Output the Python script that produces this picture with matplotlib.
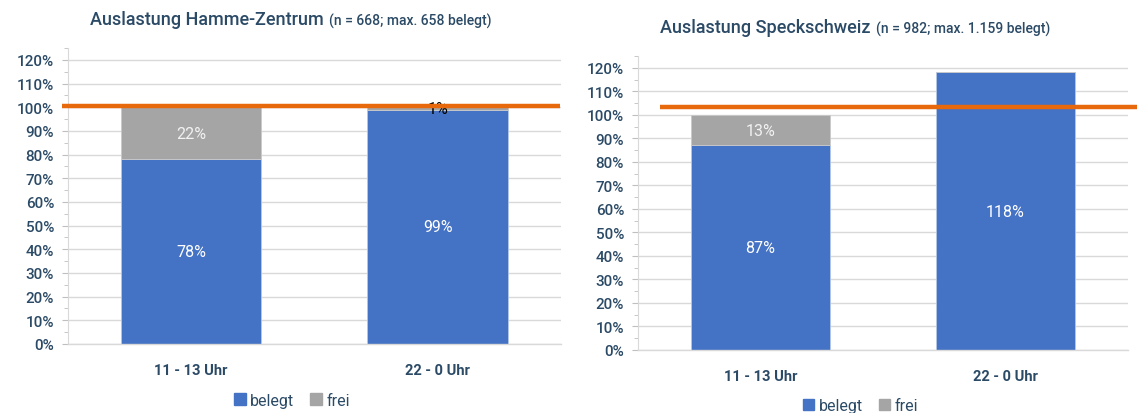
import matplotlib
matplotlib.use("Agg")
import matplotlib.pyplot as plt
from matplotlib.patches import Patch
from matplotlib.ticker import MultipleLocator, FuncFormatter

plt.rcParams['font.family'] = ['Roboto', 'DejaVu Sans']

# ---- data ----
categories = ["11 - 13 Uhr", "22 - 0 Uhr"]
left_title = "Auslastung Hamme-Zentrum"
left_sub = "(n = 668; max. 658 belegt)"
left_belegt = [78, 99]
left_frei = [22, 1]
left_threshold = 100.5

right_title = "Auslastung Speckschweiz"
right_sub = "(n = 982; max. 1.159 belegt)"
right_belegt = [87, 118]
right_frei = [13, 0]
right_threshold = 103.5

series_names = ["belegt", "frei"]

BLUE = "#4472C4"
GRAY = "#A5A5A5"
ORANGE = "#E8690B"
TXT = "#2B4A66"
GRID = "#D9D9D9"

fig = plt.figure(figsize=(11.37, 4.14), dpi=100)

ax_l = fig.add_axes([0.0598, 0.1667, 0.4336, 0.7149])
ax_r = fig.add_axes([0.5611, 0.1522, 0.4310, 0.7101])


def draw(ax, belegt, frei, threshold, line_x):
    x = list(range(len(categories)))
    width = 0.57
    ax.bar(x, belegt, width, color=BLUE, zorder=2, edgecolor="#B4C7E7", linewidth=0.6)
    ax.bar(x, frei, width, bottom=belegt, color=GRAY, zorder=2, edgecolor="#C9C9C9", linewidth=0.6)
    for i in x:
        ax.text(i, belegt[i] / 2, f"{belegt[i]}%", ha="center", va="center",
                color="white", fontsize=11.5, zorder=3)
        if frei[i] > 0:
            col = "#F2F2F2" if frei[i] > 5 else "black"
            ax.text(i, belegt[i] + frei[i] / 2, f"{frei[i]}%", ha="center", va="center",
                    color=col, fontsize=11.5, zorder=3)
    ax.plot(line_x, [threshold, threshold], color=ORANGE, lw=3.2,
            transform=ax.get_yaxis_transform(), clip_on=False, zorder=5,
            solid_capstyle="butt")
    ax.set_xlim(-0.5, len(categories) - 0.5)
    ax.set_ylim(0, 125)
    ax.yaxis.set_major_locator(MultipleLocator(10))
    ax.yaxis.set_minor_locator(MultipleLocator(5))
    ax.yaxis.set_major_formatter(FuncFormatter(lambda v, p: f"{int(v)}%" if v <= 120 else ""))
    ax.set_xticks(x)
    ax.set_xticklabels(categories, fontweight="bold", fontsize=10.5, color=TXT)
    ax.tick_params(axis="x", length=0, pad=14)
    ax.tick_params(axis="y", which="both", length=4, color="#BFBFBF", labelsize=11,
                   labelcolor=TXT, pad=6)
    ax.tick_params(axis="y", which="minor", length=3)
    for t in ax.get_yticklabels():
        t.set_fontweight("medium")
    for v in range(0, 121, 10):
        ax.axhline(v, color=GRID, lw=1, zorder=0)
    for s in ["top", "right"]:
        ax.spines[s].set_visible(False)
    ax.spines["left"].set_color(GRID)
    ax.spines["bottom"].set_color(GRID)
    ax.spines["bottom"].set_linewidth(1)


draw(ax_l, left_belegt, left_frei, left_threshold, [-0.012, 0.998])
draw(ax_r, right_belegt, right_frei, right_threshold, [0.045, 1.02])

# titles
fig.canvas.draw()
renderer = fig.canvas.get_renderer()


def title(x_px, y_px, main, sub):
    t = fig.text(x_px / 1137, 1 - y_px / 414, main, fontsize=13, color=TXT,
                 fontweight="medium", ha="left", va="center")
    fig.canvas.draw()
    bb = t.get_window_extent(renderer)
    fig.text((bb.x1 + 5) / 1137, 1 - (y_px + 1) / 414, sub, fontsize=10, color=TXT,
             fontweight="medium", ha="left", va="center")


title(90, 20, left_title, left_sub)
title(660, 28, right_title, right_sub)

handles = [Patch(color=BLUE, label=series_names[0]), Patch(color=GRAY, label=series_names[1])]
for cx, cy in [(0.257, 0.031), (0.757, 0.017)]:
    fig.legend(handles=handles, loc="center", bbox_to_anchor=(cx, cy), ncol=2,
               frameon=False, fontsize=11.5, labelcolor=TXT, handlelength=0.7,
               handleheight=0.7, handletextpad=0.3, columnspacing=1.0)

fig.savefig("out.png", dpi=100)
